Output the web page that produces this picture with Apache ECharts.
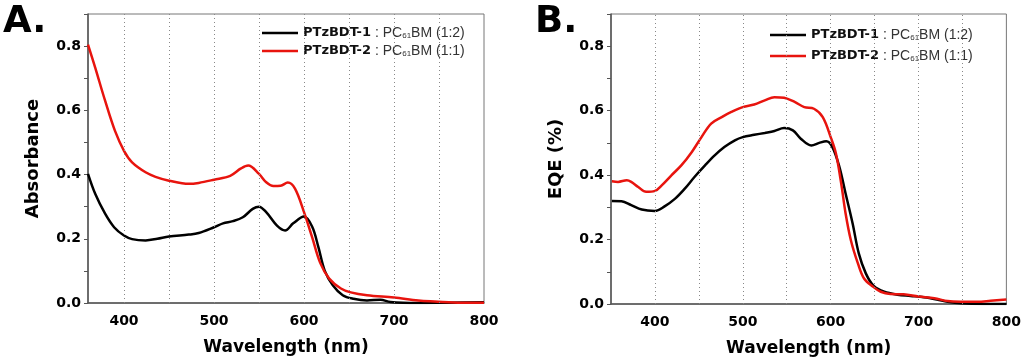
<!DOCTYPE html>
<html><head><meta charset="utf-8">
<script src="https://cdn.jsdelivr.net/npm/echarts@6/dist/echarts.min.js"></script>
<style>html,body{margin:0;padding:0;background:#fff}#c{width:1024px;height:362px}</style>
</head><body><div id="c"></div>
<script>
// Panel A: absorbance
const absWl1 = [360,368,379,389,400,409,424,437,450,472,483,500,510,521,532,543,550,558,570,579,588,600,609,616,623,632,643,655,670,685,696,726,760,800];
const absVal1 = [0.402,0.34,0.278,0.236,0.21,0.199,0.195,0.2,0.207,0.213,0.218,0.236,0.248,0.255,0.267,0.293,0.3,0.283,0.241,0.226,0.248,0.269,0.238,0.174,0.101,0.055,0.024,0.013,0.008,0.01,0.003,0.0,0.001,0.002];
const absWl2 = [360,368,379,390,400,409,424,435,450,472,483,500,518,530,538,550,558,566,574,582,590,600,609,618,628,641,652,670,700,727,745,775,800];
const absVal2 = [0.805,0.733,0.63,0.536,0.474,0.438,0.407,0.393,0.381,0.371,0.374,0.384,0.396,0.419,0.428,0.402,0.376,0.364,0.365,0.375,0.356,0.283,0.205,0.125,0.076,0.045,0.033,0.024,0.017,0.008,0.005,0.001,0.001];
// Panel B: EQE
const eqeWl1 = [351,362,373,385,400,411,423,434,445,457,468,479,491,500,513,525,536,547,557,566,578,587,595,602,610,617,625,632,640,649,661,676,691,706,721,733,748,774,800];
const eqeVal1 = [0.32,0.319,0.307,0.293,0.289,0.303,0.327,0.358,0.394,0.43,0.461,0.487,0.508,0.518,0.525,0.531,0.537,0.546,0.539,0.513,0.492,0.5,0.505,0.487,0.425,0.343,0.25,0.157,0.095,0.056,0.038,0.029,0.025,0.021,0.014,0.007,0.002,0.0,0.0];
const eqeWl2 = [351,358,368,373,381,390,400,408,419,430,442,453,464,476,487,500,513,525,536,547,559,570,581,591,600,606,612,617,623,631,638,648,657,668,683,700,718,733,748,767,782,800];
const eqeVal2 = [0.381,0.379,0.384,0.379,0.363,0.348,0.351,0.369,0.4,0.43,0.472,0.518,0.56,0.58,0.596,0.611,0.619,0.632,0.642,0.64,0.627,0.611,0.606,0.58,0.518,0.467,0.374,0.281,0.198,0.126,0.079,0.054,0.038,0.031,0.03,0.023,0.018,0.009,0.007,0.007,0.01,0.014];
const gridLinesX = [400,450,500,550,600,650,700,750];
const seriesNames = ['PTzBDT-1','PTzBDT-2'];
const ratios = {'PTzBDT-1':'1:2','PTzBDT-2':'1:1'};
const colors = ['#000000','#e8140e'];

const zip = (a,b)=>a.map((v,i)=>[v,b[i]]);
const FF = 'DejaVu Sans';
function xAxis(idx,min){
  return {type:'value',gridIndex:idx,min:min,max:800,interval:(min===360?20:50),
    name:'Wavelength (nm)',nameLocation:'middle',nameGap:36,
    nameTextStyle:{fontFamily:FF,fontWeight:'bold',fontSize:17,color:'#000'},
    axisLine:{show:true,onZero:false,lineStyle:{color:'#555',width:1.5}},
    axisTick:{show:false},splitLine:{show:false},
    axisLabel:{margin:11,fontFamily:FF,fontWeight:'bold',fontSize:14,color:'#000',
      formatter:v=>(v%100===0 && v>=400)?String(v):''}};
}
function yAxis(idx,name){
  return {type:'value',gridIndex:idx,min:0,max:0.9,interval:0.1,
    name:name,nameLocation:'middle',nameGap:46,nameRotate:90,
    nameTextStyle:{fontFamily:FF,fontWeight:'bold',fontSize:18,color:'#000'},
    axisLine:{show:true,lineStyle:{color:'#555',width:1.5}},
    axisTick:{show:true,length:4,lineStyle:{color:'#555'}},splitLine:{show:false},
    axisLabel:{margin:7,fontFamily:FF,fontWeight:'bold',fontSize:14,color:'#000',
      formatter:v=>{const k=Math.round(v*10);return (k%2===0 && k<=8)?(k/10).toFixed(1):'';}}};
}
const mark = {symbol:'none',silent:true,label:{show:false},
  lineStyle:{type:[1,3],color:'#888',width:1},data:gridLinesX.map(v=>({xAxis:v}))};
function line(name,data,ci,xi,withMark){
  const s={name:name,type:'line',xAxisIndex:xi,yAxisIndex:xi,data:data,symbol:'none',smooth:0.35,
    lineStyle:{color:colors[ci],width:2.5},itemStyle:{color:colors[ci]},z:3};
  if(withMark) s.markLine=mark;
  return s;
}
const rich = {
  b:{fontFamily:FF,fontWeight:'bold',fontSize:13,color:'#111'},
  n:{fontFamily:'Liberation Sans',fontSize:14,color:'#333'},
  s:{fontFamily:'Liberation Sans',fontSize:8,color:'#333',verticalAlign:'bottom',padding:[5,0,0,0]}
};
const legFmt = n=>'{b|'+n+'}{n| : PC}{s|61}{n|BM ('+ratios[n]+')}';
function legend(left,top,gap){
  return {orient:'vertical',left:left,top:top,icon:'rect',itemWidth:36,itemHeight:2.5,itemGap:gap,
    data:seriesNames,formatter:legFmt,textStyle:{rich:rich},padding:0};
}
const chart = echarts.init(document.getElementById('c'),null,{renderer:'canvas'});
chart.setOption({
  animation:false,
  grid:[
    {left:88,top:14,width:396,height:289,show:true,borderColor:'#777',borderWidth:1},
    {left:611,top:14,width:397,height:290,show:true,borderColor:'#777',borderWidth:1}
  ],
  xAxis:[xAxis(0,360),xAxis(1,350)],
  yAxis:[yAxis(0,'Absorbance'),yAxis(1,'EQE (%)')],
  legend:[legend(262,26,4),legend(770,28,7)],
  graphic:[
    {type:'text',left:3,top:4,style:{text:'A.',fontFamily:FF,fontWeight:'bold',fontSize:37,fill:'#000'}},
    {type:'text',left:535,top:4,style:{text:'B.',fontFamily:FF,fontWeight:'bold',fontSize:37,fill:'#000'}}
  ],
  series:[
    line(seriesNames[0],zip(absWl1,absVal1),0,0,true),
    line(seriesNames[1],zip(absWl2,absVal2),1,0,false),
    line(seriesNames[0],zip(eqeWl1,eqeVal1),0,1,true),
    line(seriesNames[1],zip(eqeWl2,eqeVal2),1,1,false)
  ]
});
</script></body></html>
